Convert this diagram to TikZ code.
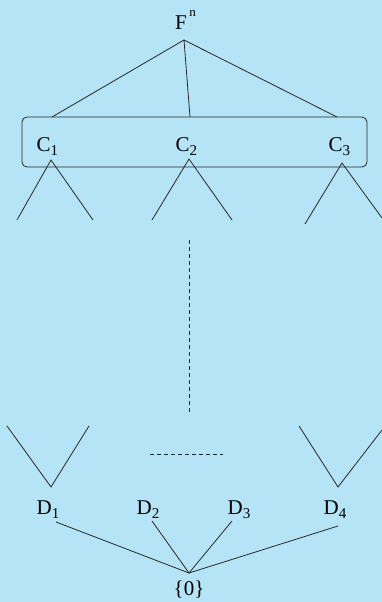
\documentclass[tikz,border=0pt]{standalone}
\usepackage{fontspec}
\setmainfont{Liberation Serif}
\definecolor{bg}{RGB}{180,228,245}
\definecolor{ln}{RGB}{40,40,40}
\newcommand{\mysub}[1]{\raisebox{-0.22em}{\fontsize{15}{15}\selectfont #1}}
\begin{document}
\begin{tikzpicture}[x=1pt,y=-1pt,
  lbl/.style={inner sep=0pt,anchor=base west,font=\fontsize{21}{23}\selectfont},
  edge/.style={draw=ln,line width=0.8pt},
  dashline/.style={draw=ln,line width=0.8pt,dash pattern=on 4pt off 3pt}]
\fill[bg] (0,0) rectangle (382,602);
\useasboundingbox (0,0) rectangle (382,602);
% top
\node[lbl] (F) at (175,30) {F\hspace{2.5pt}\raisebox{0.62em}{\fontsize{13}{13}\selectfont n}};
\coordinate (Fa) at (184,40);
\coordinate (c1t) at (52,117);
\coordinate (c2t) at (190,117);
\coordinate (c3t) at (337,117);
\draw[edge] (c1t) -- (Fa) -- (c3t);
\draw[edge] (Fa) -- (c2t);
\node[draw=ln,line width=0.8pt,rounded corners=5pt,minimum width=345pt,minimum height=50pt,inner sep=0pt] (box) at (194.5,142) {};
\node[lbl] (C1) at (36.5,151) {C\mysub{1}};
\node[lbl] (C2) at (175.5,151) {C\mysub{2}};
\node[lbl] (C3) at (328.5,151) {C\mysub{3}};
% branches under C
\coordinate (a1) at (51,160); \coordinate (a1l) at (17,220); \coordinate (a1r) at (93,220);
\coordinate (a2) at (189,159); \coordinate (a2l) at (152,220); \coordinate (a2r) at (232,220);
\coordinate (a3) at (342,163); \coordinate (a3l) at (305,224); \coordinate (a3r) at (382,218);
\draw[edge] (a1l) -- (a1) -- (a1r);
\draw[edge] (a2l) -- (a2) -- (a2r);
\draw[edge] (a3l) -- (a3) -- (a3r);
% dashes
\coordinate (v1) at (189,240); \coordinate (v2) at (189,412);
\draw[dashline] (v1) -- (v2);
\coordinate (h1) at (150,454); \coordinate (h2) at (223,454);
\draw[dashline] (h1) -- (h2);
% bottom V's
\coordinate (b1) at (51,487); \coordinate (b1l) at (7,426); \coordinate (b1r) at (89,426);
\coordinate (b4) at (338,487); \coordinate (b4l) at (299,426); \coordinate (b4r) at (382,430);
\draw[edge] (b1l) -- (b1) -- (b1r);
\draw[edge] (b4l) -- (b4) -- (b4r);
% D labels
\node[lbl] (D1) at (36.5,514) {D\mysub{1}};
\node[lbl] (D2) at (136.5,514) {D\mysub{2}};
\node[lbl] (D3) at (227.5,514) {D\mysub{3}};
\node[lbl] (D4) at (323.5,514) {D\mysub{4}};
\node[lbl,anchor=base] (Z) at (189,595) {\{0\}};
\coordinate (za) at (189,573);
\coordinate (d1b) at (56,522); \coordinate (d2b) at (152,521);
\coordinate (d3b) at (232,521); \coordinate (d4b) at (338,526);
\draw[edge] (d1b) -- (za) -- (d4b);
\draw[edge] (d2b) -- (za) -- (d3b);
\end{tikzpicture}
\end{document}
